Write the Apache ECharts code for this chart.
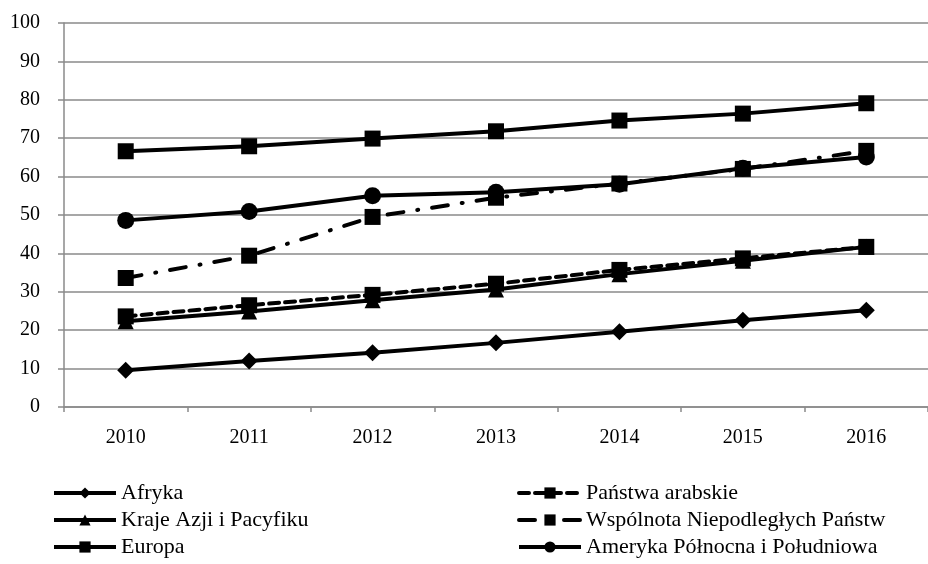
<!DOCTYPE html>
<html lang="pl">
<head>
    <meta charset="UTF-8">
    <title>Internet</title>
    <style>
        html,body{margin:0;padding:0;background:#fff;}
        #main{width:928px;height:564px;}
    </style>
</head>
<body>
<div id="main"></div>
<script src="https://cdn.jsdelivr.net/npm/echarts@6/dist/echarts.min.js"></script>
<script>
    const myChart = echarts.init(document.getElementById('main'));

    // lata
    const years = ['2010', '2011', '2012', '2013', '2014', '2015', '2016'];

    // wartości
    const afryka = [9.6, 12.0, 14.1, 16.7, 19.6, 22.6, 25.2];
    const arabskie = [23.6, 26.5, 29.2, 32.1, 35.7, 38.7, 41.7];
    const azja = [22.3, 24.9, 27.8, 30.6, 34.6, 38.1, 41.7];
    const wnp = [33.6, 39.4, 49.5, 54.5, 58.2, 62.0, 66.7];
    const europa = [66.6, 67.9, 69.9, 71.8, 74.6, 76.4, 79.1];
    const ameryka = [48.6, 50.9, 55.0, 55.9, 58.0, 62.2, 65.1];

    const font = '"Liberation Serif", "DejaVu Serif", serif';
    const gray = '#8a8a8a';

    function serie(name, data, symbol, size, type) {
        return {
            name,
            type: 'line',
            data,
            symbol,
            symbolSize: size,
            showSymbol: true,
            itemStyle: {color: '#000', borderWidth: 0},
            lineStyle: {color: '#000', width: 4, type: type || 'solid', cap: type ? 'round' : 'butt'}
        };
    }

    const legendBase = {
        orient: 'vertical',
        top: 482,
        height: 80,
        padding: 0,
        itemWidth: 62,
        itemHeight: 14,
        itemGap: 5,
        lineStyle: {width: 4},
        textStyle: {fontFamily: font, fontSize: 22, color: '#000'}
    };

    const option = {
        animation: false,
        grid: {left: 64, top: 23, height: 384, width: 873},
        legend: [
            Object.assign({left: 52, data: ['Afryka', 'Kraje Azji i Pacyfiku', 'Europa']}, legendBase),
            Object.assign({left: 517, data: ['Państwa arabskie', 'Wspólnota Niepodległych Państw', 'Ameryka Północna i Południowa']}, legendBase)
        ],
        xAxis: {
            type: 'category',
            data: years,
            boundaryGap: true,
            axisLine: {lineStyle: {color: gray, width: 1.5}},
            axisTick: {show: true, length: 5, lineStyle: {color: gray, width: 1.5}},
            axisLabel: {fontFamily: font, fontSize: 20, color: '#000', margin: 21}
        },
        yAxis: {
            type: 'value',
            min: 0,
            max: 100,
            interval: 10,
            axisLine: {show: true, lineStyle: {color: gray, width: 1.5}},
            axisTick: {show: true, length: 6, lineStyle: {color: gray, width: 1.5}},
            splitLine: {lineStyle: {color: gray, width: 1.5}},
            axisLabel: {fontFamily: font, fontSize: 20, color: '#000', margin: 24}
        },
        series: [
            serie('Afryka', afryka, 'diamond', 17),
            serie('Państwa arabskie', arabskie, 'rect', 16, [10, 6]),
            serie('Kraje Azji i Pacyfiku', azja, 'triangle', 16),
            serie('Wspólnota Niepodległych Państw', wnp, 'rect', 16, [16, 14, 1, 14]),
            serie('Europa', europa, 'rect', 16),
            serie('Ameryka Północna i Południowa', ameryka, 'circle', 17)
        ]
    };

    myChart.setOption(option);
</script>
</body>
</html>
